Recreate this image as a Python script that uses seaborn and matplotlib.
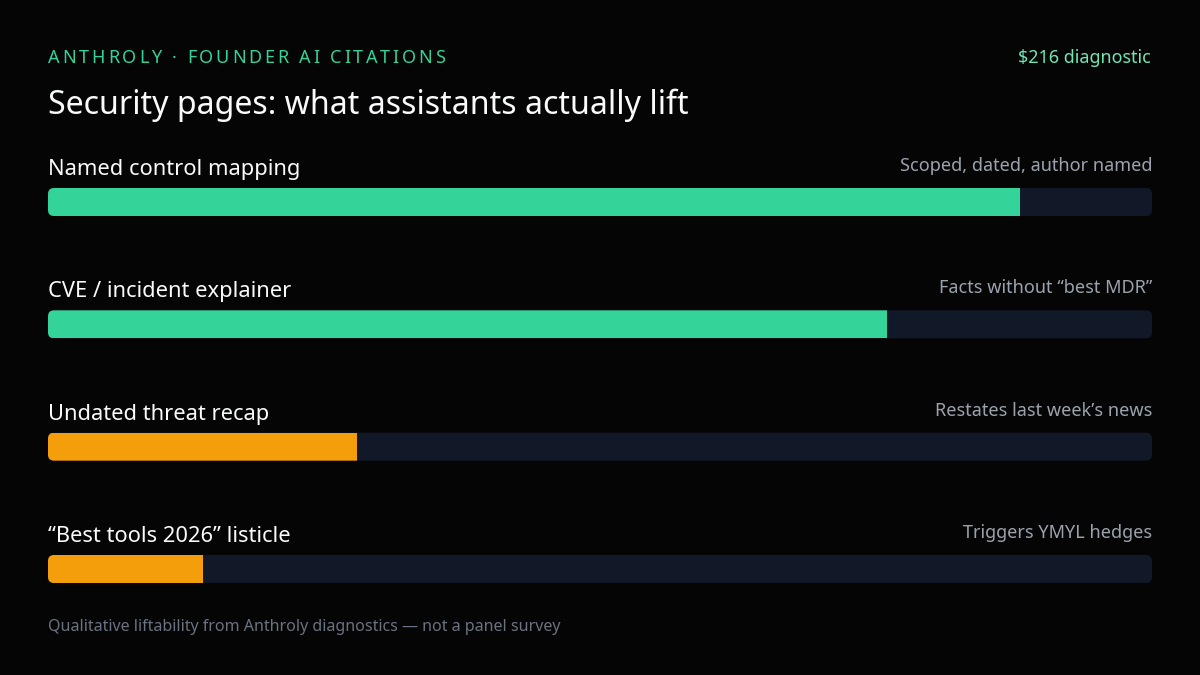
import matplotlib
matplotlib.use("Agg")
import matplotlib.pyplot as plt
import seaborn as sns
import pandas as pd
from matplotlib.patches import FancyBboxPatch
from matplotlib.font_manager import FontProperties

# Chart data
page_types = ["Named control mapping", "CVE / incident explainer",
              "Undated threat recap", "\u201cBest tools 2026\u201d listicle"]
liftability = [0.88, 0.76, 0.28, 0.14]
notes = ["Scoped, dated, author named", "Facts without \u201cbest MDR\u201d",
         "Restates last week\u2019s news", "Triggers YMYL hedges"]
bar_colors = ["#34d399", "#34d399", "#f59e0b", "#f59e0b"]
track_full = [1.0, 1.0, 1.0, 1.0]

header = "ANTHROLY \u00b7 FOUNDER AI CITATIONS"
price = "$216 diagnostic"
title = "Security pages: what assistants actually lift"
footer = "Qualitative liftability from Anthroly diagnostics \u2014 not a panel survey"

BG = "#050505"
TRACK = "#111827"

sns.set_theme(style="white")
plt.rcParams["font.family"] = ["Noto Sans", "DejaVu Sans"]

W, H = 1200, 675
fig = plt.figure(figsize=(12, 6.75), dpi=100, facecolor=BG)

# axes: x 48..1152 px, rows centred at 202 + 122.33*i px
row_px = 122.33
top_px = 202 - row_px / 2
bot_px = 202 + row_px * 3.5
ax = fig.add_axes([48 / W, 1 - bot_px / H, 1104 / W, (bot_px - top_px) / H])
ax.set_facecolor(BG)

df = pd.DataFrame({"page": page_types, "lift": liftability, "track": track_full})
bar_h = 28 / row_px

sns.barplot(data=df, x="track", y="page", color=TRACK, width=bar_h,
            saturation=1, ax=ax, orient="h")
sns.barplot(data=df, x="lift", y="page", hue="page", palette=bar_colors,
            width=bar_h, saturation=1, legend=False, ax=ax, orient="h")

ax.set_xlim(0, 1)
ax.set_ylim(3.5, -0.5)
ax.axis("off")

# rounded track, fill clipped to it (rounded left, square right)
radius_x = 6 / 1104
aspect = 1104 / row_px
patches = list(ax.patches)
tracks, fills = patches[:4], patches[4:]
for tr, fl in zip(tracks, fills):
    x0, y0 = tr.get_x(), tr.get_y()
    w, h = tr.get_width(), tr.get_height()
    rp = FancyBboxPatch((x0, y0), w, h,
                        boxstyle=f"round,pad=0,rounding_size={radius_x}",
                        mutation_aspect=aspect, facecolor=TRACK,
                        edgecolor="none", transform=ax.transData, zorder=1)
    tr.remove()
    ax.add_patch(rp)
    fl.set_zorder(2)
    fl.set_edgecolor("none")
    fl.set_clip_path(rp)

# row labels and notes
for i, (lab, note) in enumerate(zip(page_types, notes)):
    ax.text(0, i - (202 - 175) / row_px, lab, color="#f9fafb", fontsize=15.75,
            ha="left", va="baseline")
    ax.text(1, i - (202 - 171) / row_px, note, color="#9ca3af", fontsize=13,
            ha="right", va="baseline")

# header with letter spacing
renderer = fig.canvas.get_renderer()
hprop = FontProperties(family=["Noto Sans", "DejaVu Sans"], size=13)


def text_w(s):
    if not s:
        return 0.0
    w, _, _ = renderer.get_text_width_height_descent(s, hprop, ismath=False)
    return w


natural = text_w(header)
spacing = (397 - natural) / (len(header) - 1)
for k, ch in enumerate(header):
    xpx = 48 + text_w(header[:k]) + k * spacing
    fig.text(xpx / W, 1 - 63 / H, ch, color="#34d399", fontproperties=hprop,
             ha="left", va="baseline")

fig.text(1151 / W, 1 - 63 / H, price, color="#6ee7b7", fontsize=12.9,
         ha="right", va="baseline")
fig.text(48 / W, 1 - 114 / H, title, color="#f9fafb", fontsize=23.1,
         ha="left", va="baseline")
fig.text(48 / W, 1 - 631 / H, footer, color="#6b7280", fontsize=11.55,
         ha="left", va="baseline")

fig.savefig("out.png", dpi=100, facecolor=BG)
